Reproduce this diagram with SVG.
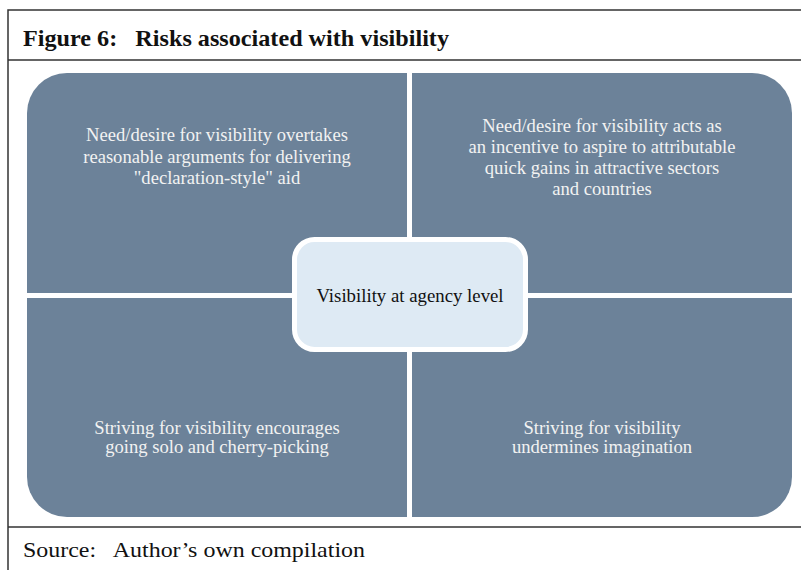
<svg xmlns="http://www.w3.org/2000/svg" width="801" height="570" viewBox="0 0 801 570">
<style>
.frame{stroke:#333;stroke-width:1.5;fill:none}
.q{fill:#6c8299}
.qt{font-family:"Liberation Serif",serif;font-size:18.6px;fill:#f2f2f2;text-anchor:middle}
.hd{font-family:"Liberation Serif",serif;font-weight:bold;font-size:23px;fill:#111}
.src{font-family:"Liberation Serif",serif;font-size:22px;fill:#111}
</style>
<rect width="801" height="570" fill="#fff"/>
<g id="frame">
<path class="frame" d="M801 10H8V570M8 60H801M8 527H801"/>
<text class="hd" x="23" y="46" xml:space="preserve" textLength="426" lengthAdjust="spacingAndGlyphs">Figure 6:   Risks associated with visibility</text>
<text class="src" x="23" y="557" xml:space="preserve" textLength="342" lengthAdjust="spacingAndGlyphs">Source:   Author’s own compilation</text>
</g>
<g id="q-tl">
<path class="q" d="M27 293V113A40 40 0 0 1 67 73H407V293Z"/>
<text class="qt" x="217" y="141">Need/desire for visibility overtakes</text>
<text class="qt" x="217" y="162.5">reasonable arguments for delivering</text>
<text class="qt" x="217" y="183.5">"declaration-style" aid</text>
</g>
<g id="q-tr">
<path class="q" d="M412 73H752A40 40 0 0 1 792 113V293H412Z"/>
<text class="qt" x="602" y="131.5">Need/desire for visibility acts as</text>
<text class="qt" x="602" y="152.5">an incentive to aspire to attributable</text>
<text class="qt" x="602" y="173.5">quick gains in attractive sectors</text>
<text class="qt" x="602" y="194.5">and countries</text>
</g>
<g id="q-bl">
<path class="q" d="M27 298H407V517H67A40 40 0 0 1 27 477Z"/>
<text class="qt" x="217" y="434">Striving for visibility encourages</text>
<text class="qt" x="217" y="453">going solo and cherry-picking</text>
</g>
<g id="q-br">
<path class="q" d="M412 298H792V477A40 40 0 0 1 752 517H412Z"/>
<text class="qt" x="602" y="434">Striving for visibility</text>
<text class="qt" x="602" y="453">undermines imagination</text>
</g>
<g id="center">
<rect x="294.5" y="239.5" width="231" height="110" rx="20" fill="#deeaf4" stroke="#fff" stroke-width="5"/>
<text x="410" y="302" font-family="Liberation Serif, serif" font-size="18.8px" fill="#111" text-anchor="middle">Visibility at agency level</text>
</g>
</svg>
